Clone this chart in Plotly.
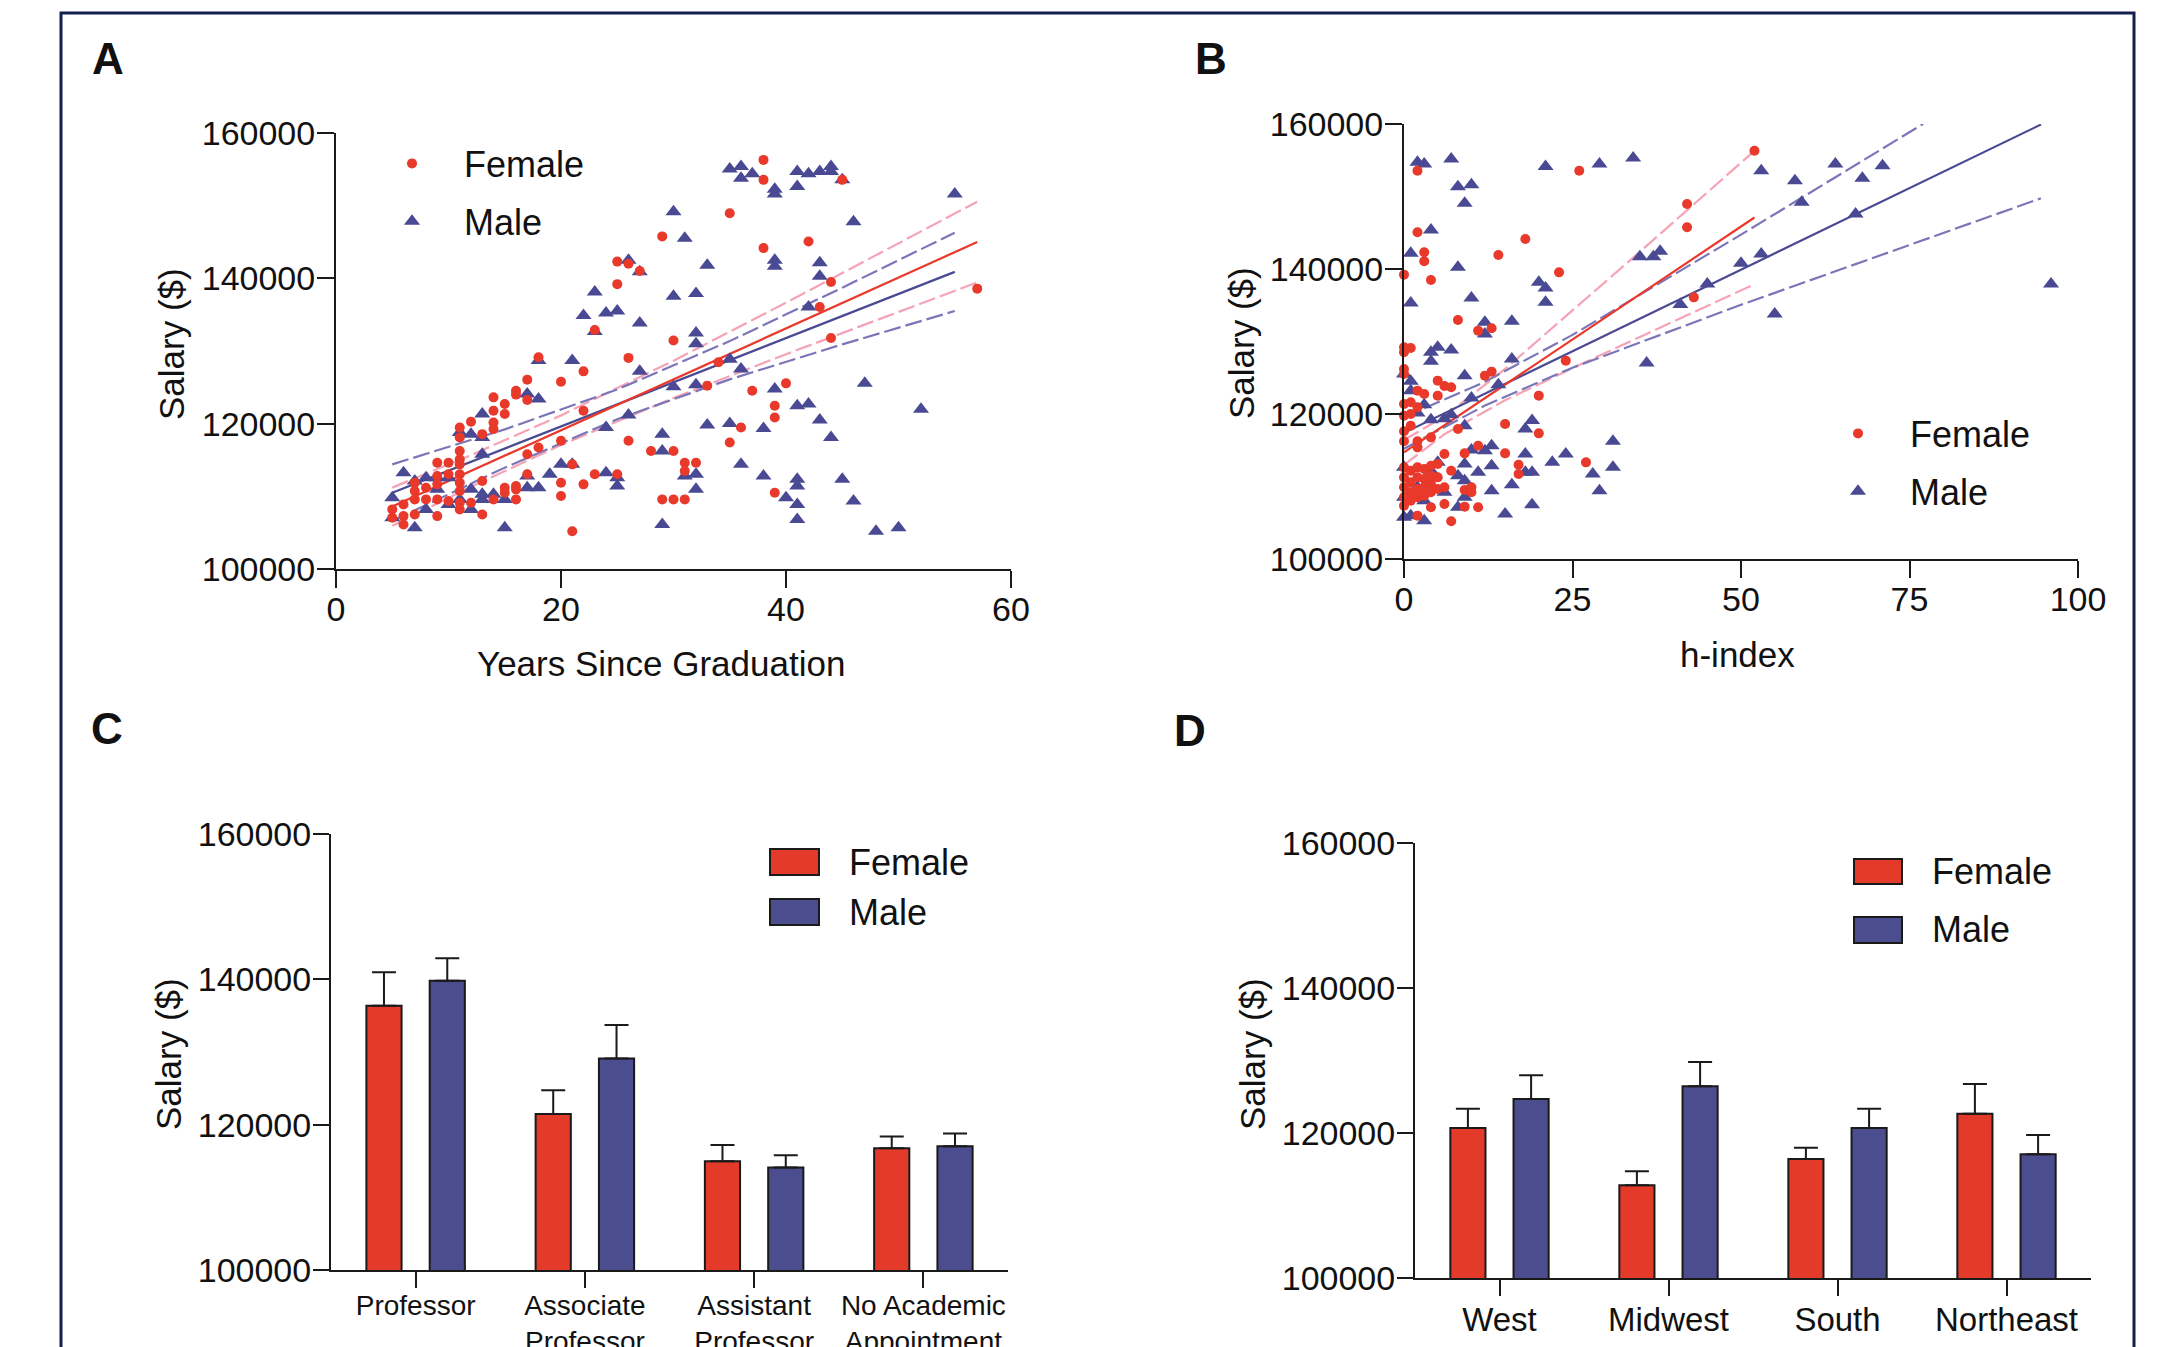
import plotly.graph_objects as go

# ---------------- DATA ----------------
# Panel A: salary vs years since graduation
a_female_years = [38, 38, 45, 35, 29, 38, 42, 25, 26, 27, 25, 44, 43, 23, 30, 44, 18, 26, 34, 17, 20, 22, 16, 16, 14, 17, 15, 15, 14, 33,
                  37, 40, 39, 39, 22, 12, 11, 11, 13, 14, 14, 11, 11, 11, 11, 11, 11, 11, 11, 10, 9, 10, 9, 9, 8, 7, 7, 7, 7, 8,
                  9, 10, 9, 6, 6, 6, 5, 5, 13, 13, 12, 15, 15, 16, 16, 16, 14, 17, 17, 18, 20, 20, 20, 21, 21, 22, 23, 25, 26, 28,
                  30, 31, 31, 32, 29, 30, 31, 35, 36, 39, 57]
a_female_salary = [156300, 153550, 153550, 148950, 145770, 144160, 145080, 142300, 142000, 141000, 139200, 139500, 136050, 132900,
                   131450, 131800, 129150, 129050, 128450, 126060, 125780, 127200, 124540, 124000, 123620, 123250, 122700, 121320,
                   121780, 125230, 124540, 125550, 122460, 120850, 121780, 120260, 119480, 118100, 118560, 119250, 120170, 116250,
                   115100, 114400, 113030, 111880, 110730, 109120, 108200, 114630, 114630, 113030, 112800, 111650, 111190, 111880,
                   110730, 109580, 107500, 109580, 109580, 109350, 107280, 108890, 107280, 106130, 108200, 107050, 112110, 107500,
                   109120, 111190, 110500, 111420, 110960, 109580, 109580, 115790, 113030, 116710, 117640, 111880, 110040, 114400,
                   105200, 111650, 113030, 113030, 117640, 116250, 116250, 114630, 113490, 114630, 109580, 109580, 109580, 117410,
                   119480, 110500, 138580]
a_male_years = [35, 36, 36, 37, 39, 39, 41, 41, 42, 43, 44, 44, 45, 55, 30, 31, 46, 33, 39, 39, 43, 43, 26, 27, 23, 22, 24, 25, 23, 27,
                30, 32, 32, 32, 42, 21, 18, 17, 18, 27, 30, 32, 35, 36, 39, 47, 41, 42, 43, 44, 52, 26, 24, 33, 35, 38, 29, 29, 32,
                31, 32, 36, 38, 41, 41, 40, 41, 41, 45, 46, 48, 50, 29, 20, 21, 19, 24, 25, 25, 17, 17, 18, 15, 15, 14, 13, 13, 13,
                13, 13, 12, 11, 12, 12, 11, 10, 10, 9, 9, 8, 8, 7, 7, 6, 5, 5]
a_male_salary = [155030, 155400, 153780, 154380, 152270, 151620, 154700, 152630, 154380, 154700, 155400, 154700, 153550, 151620,
                 149180, 145500, 147800, 141800, 142500, 141670, 142130, 140290, 142500, 140890, 138130, 134900, 135230, 135500,
                 132700, 133850, 137530, 137900, 132470, 131000, 136050, 128690, 128690, 124090, 123400, 127220, 125090, 125370,
                 128850, 127540, 124770, 125550, 122460, 122700, 120490, 118100, 122000, 121180, 119480, 119800, 120030, 119340,
                 118560, 116250, 113030, 112800, 110960, 114400, 112800, 112340, 111420, 109810, 108890, 106820, 112340, 109350,
                 105200, 105660, 106130, 114400, 114400, 113030, 113260, 112570, 111420, 112800, 111190, 111190, 105660, 109580,
                 110270, 110270, 109580, 115790, 121320, 118100, 118560, 118790, 110960, 108200, 109580, 112570, 108890, 112570,
                 110960, 112570, 108200, 112110, 105660, 113260, 109810, 107050]
# regression lines
a_female_fit_x = [5, 57]
a_female_fit_y = [108600, 145000]
a_female_ci_x = [5, 12, 20, 30, 40, 57]
a_female_ci_hi = [111200, 115670, 121140, 128670, 136640, 150550]
a_female_ci_lo = [105950, 111330, 117060, 123530, 129560, 139450]
a_male_fit_x = [5, 55]
a_male_fit_y = [110500, 140890]
a_male_ci_x = [5, 15, 25, 35, 45, 55]
a_male_ci_hi = [114400, 119210, 124700, 131360, 138710, 146280]
a_male_ci_lo = [106600, 113950, 120620, 126100, 130910, 135500]

# Panel B: salary vs h-index
b_female_h = [2, 26, 52, 42, 42, 43, 24, 20, 20, 27, 2, 3, 3, 4, 0, 18, 14, 23, 8, 11, 13, 12, 13, 5, 6, 7, 5, 3, 2, 0, 1, 0, 0, 0,
              0, 1, 0, 1, 2, 0, 1, 0, 2, 2, 4, 8, 15, 11, 6, 9, 15, 17, 17, 5, 7, 6, 9, 10, 10, 11, 9, 6, 4, 2, 7,
              0, 0, 0, 0, 0, 1, 1, 1, 1, 2, 2, 2, 2, 3, 3, 3, 3, 4, 4, 4, 4, 5, 5]
b_female_salary = [153560, 153560, 156320, 148970, 145750, 136090, 127360, 122530, 117330, 113330, 145060, 142300, 141060, 138480,
                   139220, 144140, 141930, 139540, 132970, 131500, 131820, 125290, 125840, 124600, 123860, 123680, 122530, 122760,
                   123220, 129200, 129100, 128510, 126210, 125520, 121380, 121610, 119770, 120000, 120920, 117610, 118390, 116230,
                   116230, 115400, 116780, 117930, 118620, 115630, 114480, 114570, 114570, 113010, 111720, 113100, 112180, 109890,
                   109520, 109200, 109890, 107130, 107220, 107590, 107130, 105980, 105200,
                   112640, 111260, 109890, 108510, 107360, 112180, 110570, 109200, 108050, 112640, 111260, 109660, 108510, 112410,
                   111030, 109890, 108740, 112870, 111490, 110340, 109200, 111260, 109660]
b_male_h = [2, 3, 7, 21, 29, 34, 8, 10, 9, 53, 58, 64, 68, 71, 59, 67, 4, 1, 8, 20, 21, 21, 1, 10, 35, 37, 38, 50, 53, 45, 41, 55, 96,
            36, 12, 12, 16, 4, 5, 7, 4, 16, 9, 0, 1, 1, 14, 10, 3, 2, 4, 6, 7, 9, 19, 18, 13, 12, 10, 31, 24, 22, 18, 18, 31, 28,
            29, 19, 16, 13, 13, 11, 9, 9, 9, 8, 8, 6, 5, 4, 3, 3, 2, 1, 1, 0, 0, 0, 15, 19]
b_male_salary = [154710, 154480, 155170, 154140, 154480, 155310, 151360, 151630, 149060, 153560, 152180, 154480, 152510, 154250,
                 149200, 147590, 145380, 142160, 140230, 138160, 137380, 135400, 135310, 136000, 141700, 141700, 142440, 140800,
                 142070, 137930, 135100, 133800, 137930, 127040, 132640, 131040, 132780, 128510, 129200, 128830, 127270, 127590,
                 125290, 125520, 124510, 123220, 124050, 122210, 121290, 120140, 119220, 119360, 119910, 118390, 119090, 117930,
                 115630, 114940, 115030, 116230, 114480, 113330, 114480, 111950, 112640, 111720, 109430, 111950, 110250, 112870,
                 109430, 111950, 113100, 110800, 108510, 111490, 107130, 109200, 113330, 112180, 108050, 105290, 109890, 108970,
                 105980, 105750, 112640, 108510, 106210, 107500]
b_female_fit_x = [0, 52]
b_female_fit_y = [114700, 147100]
b_female_ci_x = [0, 6, 15, 25, 35, 52]
b_female_ci_hi = [116400, 119670, 126210, 134240, 142380, 156300]
b_female_ci_lo = [112990, 117215, 121890, 126320, 130630, 137900]
b_male_fit_x = [0, 94.5]
b_male_fit_y = [117400, 159925]
b_male_ci_hi_x = [0, 12, 25, 50, 77]
b_male_ci_hi = [119580, 124440, 130910, 144740, 160000]
b_male_ci_lo_x = [0, 12, 25, 50, 94.5]
b_male_ci_lo = [115220, 121160, 126390, 135060, 149750]

# Panel C: by academic rank
c_categories = ["Professor", "Associate<br>Professor", "Assistant<br>Professor", "No Academic<br>Appointment"]
c_female_mean = [136350, 121470, 114980, 116740]
c_female_err = [4620, 3280, 2220, 1640]
c_male_mean = [139800, 129090, 114100, 117030]
c_male_err = [3100, 4620, 1700, 1750]

# Panel D: by region
d_categories = ["West", "Midwest", "South", "Northeast"]
d_female_mean = [120700, 112790, 116420, 122640]
d_female_err = [2640, 1930, 1530, 4110]
d_male_mean = [124690, 126450, 120700, 117070]
d_male_err = [3290, 3350, 2640, 2640]

y_ticks = [100000, 120000, 140000, 160000]
a_x_ticks = [0, 20, 40, 60]
b_x_ticks = [0, 25, 50, 75, 100]

# ---------------- STYLE ----------------
RED = "#e8392b"
BLUE = "#4a4a94"
PINK = "#f5a3b5"
LBLUE = "#7b76b8"
BAR_RED = "#e33a2a"
BAR_BLUE = "#4b4d8f"
NAVY = "#13204f"
FONT = "Arial, 'Liberation Sans', sans-serif"
INK = "#111111"

W, H = 2157, 1347


def px(x):
    return x / W


def py(y):
    return 1 - y / H


fig = go.Figure()


def add_line(x, y, color, dash, xa, ya):
    fig.add_trace(go.Scatter(x=x, y=y, mode="lines", line=dict(color=color, width=2.2, dash=dash),
                             xaxis=xa, yaxis=ya, showlegend=False, hoverinfo="skip"))


DASH = "17px,5px"
# Panel A lines
add_line(a_female_ci_x, a_female_ci_hi, PINK, DASH, "x", "y")
add_line(a_female_ci_x, a_female_ci_lo, PINK, DASH, "x", "y")
add_line(a_male_ci_x, a_male_ci_hi, LBLUE, DASH, "x", "y")
add_line(a_male_ci_x, a_male_ci_lo, LBLUE, DASH, "x", "y")
add_line(a_male_fit_x, a_male_fit_y, BLUE, "solid", "x", "y")
add_line(a_female_fit_x, a_female_fit_y, RED, "solid", "x", "y")
# Panel B lines
add_line(b_female_ci_x, b_female_ci_hi, PINK, DASH, "x2", "y2")
add_line(b_female_ci_x, b_female_ci_lo, PINK, DASH, "x2", "y2")
add_line(b_male_ci_hi_x, b_male_ci_hi, LBLUE, DASH, "x2", "y2")
add_line(b_male_ci_lo_x, b_male_ci_lo, LBLUE, DASH, "x2", "y2")
add_line(b_male_fit_x, b_male_fit_y, BLUE, "solid", "x2", "y2")
add_line(b_female_fit_x, b_female_fit_y, RED, "solid", "x2", "y2")

# scatter points
for xa, ya, lg, mx, my, fx, fy in [("x", "y", "legend", a_male_years, a_male_salary, a_female_years, a_female_salary),
                                   ("x2", "y2", "legend2", b_male_h, b_male_salary, b_female_h, b_female_salary)]:
    fig.add_trace(go.Scatter(x=mx, y=my, mode="markers", name="Male", legend=lg, legendgroup=lg + "m",
                             legendrank=2, cliponaxis=False,
                             marker=dict(symbol="triangle-up", size=14, color=BLUE, line=dict(width=0)),
                             xaxis=xa, yaxis=ya))
    fig.add_trace(go.Scatter(x=fx, y=fy, mode="markers", name="Female", legend=lg, legendgroup=lg + "f",
                             legendrank=1, cliponaxis=False,
                             marker=dict(symbol="circle", size=10, color=RED, line=dict(width=0)),
                             xaxis=xa, yaxis=ya))

# bars
for xa, ya, cats, fm, fe, mm, me in [("x3", "y3", c_categories, c_female_mean, c_female_err, c_male_mean, c_male_err),
                                     ("x4", "y4", d_categories, d_female_mean, d_female_err, d_male_mean, d_male_err)]:
    for name, vals, errs, col in [("Female", fm, fe, BAR_RED), ("Male", mm, me, BAR_BLUE)]:
        fig.add_trace(go.Bar(x=cats, y=vals, name=name, showlegend=False, xaxis=xa, yaxis=ya,
                             marker=dict(color=col, line=dict(color="#1a1a1a", width=2)),
                             error_y=dict(type="data", array=errs, arrayminus=[0] * len(errs), symmetric=False,
                                          color="#1a1a1a", thickness=2, width=12)))

axis_common = dict(showline=True, linecolor="#1a1a1a", linewidth=2, ticks="outside", ticklen=17, tickwidth=2,
                   tickcolor="#1a1a1a", showgrid=False, zeroline=False, mirror=False, automargin=False,
                   tickfont=dict(family=FONT, size=34, color=INK))

yax = dict(axis_common, range=[100000, 160000], tickvals=y_ticks, tickformat="d", ticklabelstandoff=-5)

layout = dict(
    width=W, height=H, margin=dict(l=0, r=0, t=0, b=0, pad=0, autoexpand=False),
    paper_bgcolor="white", plot_bgcolor="white",
    font=dict(family=FONT, color=INK),
    barmode="group", bargap=0.252, bargroupgap=0.444,
    xaxis=dict(axis_common, domain=[px(336), px(1011)], range=[0, 60], tickvals=a_x_ticks, anchor="y",
               ticklabelstandoff=-8),
    yaxis=dict(yax, domain=[py(569), py(133)], anchor="x"),
    xaxis2=dict(axis_common, domain=[px(1404), px(2078)], range=[0, 100], tickvals=b_x_ticks, anchor="y2",
                ticklabelstandoff=-8),
    yaxis2=dict(yax, domain=[py(559), py(124)], anchor="x2"),
    xaxis3=dict(axis_common, domain=[px(331), px(1008)], range=[-0.5, 3.5], anchor="y3", ticklen=16,
                ticklabelstandoff=-7, tickfont=dict(family=FONT, size=28, color=INK)),
    yaxis3=dict(yax, domain=[py(1270), py(834)], anchor="x3", ticklen=16),
    xaxis4=dict(axis_common, domain=[px(1415), px(2091)], range=[-0.5, 3.5], anchor="y4", ticklen=16,
                ticklabelstandoff=-5, tickfont=dict(family=FONT, size=33, color=INK)),
    yaxis4=dict(yax, domain=[py(1278), py(843)], anchor="x4", ticklen=16),
    legend=dict(x=px(360), y=py(192.5), xanchor="left", yanchor="middle", itemwidth=94, tracegroupgap=8,
                bgcolor="rgba(0,0,0,0)", font=dict(family=FONT, size=36, color=INK), itemsizing="trace"),
    legend2=dict(x=px(1806), y=py(462.5), xanchor="left", yanchor="middle", itemwidth=94, tracegroupgap=8,
                 bgcolor="rgba(0,0,0,0)", font=dict(family=FONT, size=36, color=INK), itemsizing="trace"),
)
fig.update_layout(**layout)

# annotations: panel letters and axis titles
annots = []
for letter, x, y in [("A", 108, 58), ("B", 1211, 58), ("C", 107, 728), ("D", 1190, 730)]:
    annots.append(dict(text="<b>%s</b>" % letter, x=px(x), y=py(y), xref="paper", yref="paper", showarrow=False,
                       xanchor="center", yanchor="middle", font=dict(family=FONT, size=44, color=INK)))
for txt, x, y, ang in [("Salary ($)", 172, 344, -90), ("Years Since Graduation", 661, 663, 0),
                       ("Salary ($)", 1241, 343, -90), ("h-index", 1737, 655, 0),
                       ("Salary ($)", 168, 1054, -90), ("Salary ($)", 1252, 1054, -90)]:
    annots.append(dict(text=txt, x=px(x), y=py(y), xref="paper", yref="paper", showarrow=False, textangle=ang,
                       xanchor="center", yanchor="middle", font=dict(family=FONT, size=35, color=INK)))
# bar legends
shapes = []
for (rx0, rx1, tx), rows in [((770, 819, 847), [(849, 875, "Female", BAR_RED), (899, 925, "Male", BAR_BLUE)]),
                             ((1854, 1902, 1930), [(859, 884, "Female", BAR_RED), (917, 943, "Male", BAR_BLUE)])]:
    for y0, y1, label, col in rows:
        shapes.append(dict(type="rect", xref="paper", yref="paper", x0=px(rx0), x1=px(rx1), y0=py(y1), y1=py(y0),
                           fillcolor=col, line=dict(color="#1a1a1a", width=2)))
        annots.append(dict(text=label, x=px(tx), y=py((y0 + y1) / 2), xref="paper", yref="paper", showarrow=False,
                           xanchor="left", yanchor="middle", font=dict(family=FONT, size=36, color=INK)))
# outer frame
shapes.append(dict(type="rect", xref="paper", yref="paper", x0=px(61), x1=px(2134), y0=py(1420), y1=py(13),
                   line=dict(color=NAVY, width=3), fillcolor="rgba(0,0,0,0)"))
fig.update_layout(annotations=annots, shapes=shapes)

post = ("var s=document.createElement('style');"
        "s.innerHTML='html,body{margin:0;padding:0;overflow:hidden;}';"
        "document.head.appendChild(s);")
fig.write_html("out.html", post_script=post, config={"displayModeBar": False})
